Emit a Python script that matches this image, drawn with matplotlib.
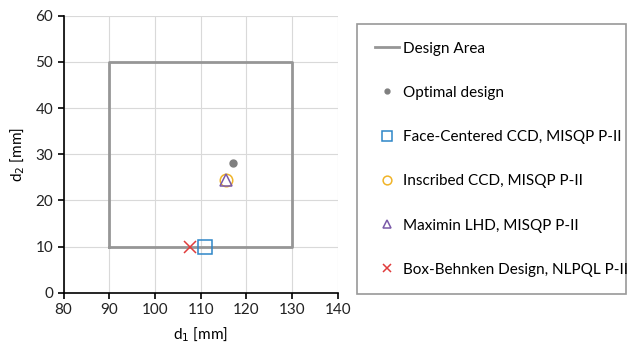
import matplotlib
matplotlib.use("Agg")
import matplotlib.pyplot as plt

plt.rcParams['font.family'] = ['Lato', 'DejaVu Sans']

# design area rectangle corners
area_d1 = [90, 130, 130, 90, 90]
area_d2 = [10, 10, 50, 50, 10]

opt_d1, opt_d2 = [117.0], [28.0]
fccd_d1, fccd_d2 = [111.0], [10.0]
iccd_d1, iccd_d2 = [115.6], [24.4]
lhd_d1, lhd_d2 = [115.6], [24.4]
bbd_d1, bbd_d2 = [107.7], [10.0]

fig = plt.figure(figsize=(6.27, 3.51), dpi=100)
ax = fig.add_axes([0.1013, 0.166, 0.4373, 0.789])

ax.plot(area_d1, area_d2, color='#969696', lw=2, label='Design Area', zorder=2)
ax.plot(opt_d1, opt_d2, 'o', color='#7f7f7f', ms=5, label='Optimal design', zorder=3)
ax.plot(fccd_d1, fccd_d2, 's', mfc='none', mec='#2e86c8', mew=1.1, ms=10,
        label='Face-Centered CCD, MISQP P-II', zorder=3)
ax.plot(iccd_d1, iccd_d2, 'o', mfc='none', mec='#f0b429', mew=1.1, ms=9,
        label='Inscribed CCD, MISQP P-II', zorder=3)
ax.plot(lhd_d1, lhd_d2, '^', mfc='none', mec='#7a5aa8', mew=1.1, ms=8,
        label='Maximin LHD, MISQP P-II', zorder=4)
ax.plot(bbd_d1, bbd_d2, 'x', color='#e03c3c', mew=1.1, ms=8,
        label='Box-Behnken Design, NLPQL P-II', zorder=3)

ax.set_xlim(80, 140)
ax.set_ylim(0, 60)
ax.set_xticks(range(80, 141, 10))
ax.set_yticks(range(0, 61, 10))
ax.grid(True, color='#d9d9d9', lw=0.8)
ax.set_axisbelow(True)
for s in ['top', 'right']:
    ax.spines[s].set_visible(False)
for s in ['left', 'bottom']:
    ax.spines[s].set_color('black')
    ax.spines[s].set_linewidth(1.2)
ax.tick_params(direction='out', length=4, width=1.2, labelsize=11, colors='black', labelcolor='#222222')
ax.set_xlabel('d$_1$ [mm]', fontsize=11, labelpad=6)
ax.set_ylabel('d$_2$ [mm]', fontsize=11, labelpad=6)

leg = fig.legend(loc='upper left', bbox_to_anchor=(357 / 627, 1 - 291 / 351, 269 / 627, 267 / 351),
                 mode='expand', fontsize=11, labelspacing=1.98, handlelength=1.6,
                 handletextpad=0.25, borderpad=1.15, markerscale=0.7, frameon=True,
                 fancybox=False, borderaxespad=0)
leg.get_frame().set_edgecolor('#7f7f7f')
leg.get_frame().set_linewidth(1.2)

fig.savefig('out.png', dpi=100)
